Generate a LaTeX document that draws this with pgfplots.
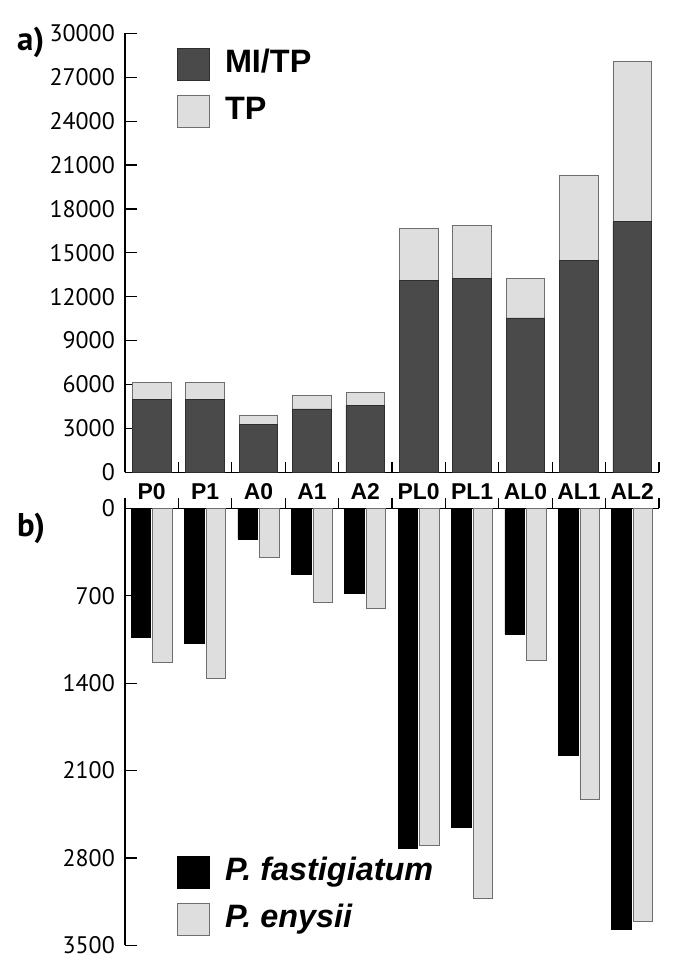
\documentclass[border=0pt]{standalone}
\usepackage{pgfplots}
\pgfplotsset{compat=1.18}
\usepackage{pgfplotstable}
\usepackage{fontspec}
\setmainfont{PT Sans}
\newfontfamily\barfont{Liberation Sans}

\definecolor{dgray}{HTML}{4A4A4A}
\definecolor{dedge}{HTML}{2E2E2E}
\definecolor{lgray}{HTML}{DEDEDE}
\definecolor{ledge}{HTML}{6E6E6E}

% panel a: stacked, MI/TP at the bottom, TP on top
\pgfplotstableread{
x  cat  mitp   tp
0  P0   4990   1135
1  P1   5000   1150
2  A0   3300   595
3  A1   4330   905
4  A2   4550   920
5  PL0  13090  3560
6  PL1  13230  3670
7  AL0  10550  2680
8  AL1  14460  5840
9  AL2  17130  10960
}\topdata

% panel b
\pgfplotstableread{
x  cat  fast  enys
0  P0   1036  1236
1  P1   1084  1362
2  A0   246   390
3  A1   529   750
4  A2   681   798
5  PL0  2723  2702
6  PL1  2555  3127
7  AL0  1009  1217
8  AL1  1976  2334
9  AL2  3369  3311
}\botdata

\pgfplotsset{
  sq legend/.style={legend image code/.code={\draw[##1] (0bp,-16bp) rectangle (32bp,16bp);}},
  panel/.style={
    scale only axis, width=534bp,
    xmin=-0.5, xmax=9.5,
    axis line style={line width=1.2bp},
    tick align=inside,
    major tick length=12bp, minor tick length=10.5bp,
    every tick/.style={black, line width=1.2bp},
    major x tick style={draw=none},
    minor xtick={-0.5,0.5,...,9.5},
    scaled y ticks=false,
    /pgf/number format/assume math mode=true,
    /pgf/number format/1000 sep={},
    yticklabel style={font=\fontsize{24}{28}\selectfont, inner sep=0pt, xshift=-10bp},
    legend cell align=left,
    legend style={draw=none, fill=none, inner sep=0pt, row sep=14bp, column sep=15bp,
      nodes={inner sep=0pt, text height=24bp, text depth=8bp},
      font=\barfont\bfseries\fontsize{32.5}{36}\selectfont},
  },
}

\begin{document}
\begin{tikzpicture}
\useasboundingbox (0bp,0bp) rectangle (685bp,-973bp);

\begin{axis}[panel,
  at={(125bp,-472.3bp)}, anchor=south west, height=439bp,
  axis x line*=bottom, axis y line*=left,
  ymin=0, ymax=30000, ytick={0,3000,...,30000},
  ybar stacked, bar width=38.7bp,
  xtick=data, xticklabels from table={\topdata}{cat},
  xticklabel style={font=\barfont\bfseries\fontsize{23}{26}\selectfont, anchor=base, inner sep=0pt, yshift=-27bp},
  legend style={at={(axis description cs:0.0974,0.9665)}, anchor=north west},
]
\addplot[fill=dgray, draw=dedge, line width=0.8bp, sq legend] table[x=x, y=mitp] {\topdata};
\addplot[fill=lgray, draw=ledge, line width=0.8bp, sq legend] table[x=x, y=tp] {\topdata};
\legend{MI/TP, TP}
\end{axis}

\begin{axis}[panel,
  at={(125bp,-508.3bp)}, anchor=north west, height=437bp,
  y dir=reverse,
  axis x line*=top, axis y line*=left,
  ymin=0, ymax=3500, ytick={0,700,...,3500},
  ybar=2.1bp, bar width=19.5bp,
  xtick=data, xticklabels={},
  legend style={at={(axis description cs:0.0974,0.2043)}, anchor=north west},
]
\addplot[fill=black, draw=black, line width=0.6bp, sq legend] table[x=x, y=fast] {\botdata};
\addplot[fill=lgray, draw=ledge, line width=0.8bp, sq legend] table[x=x, y=enys] {\botdata};
\legend{\itshape P. fastigiatum, \itshape P. enysii}
\end{axis}

\node[anchor=base west, inner sep=0pt, font=\bfseries\fontsize{33}{36}\selectfont] at (17bp,-50bp) {a)};
\node[anchor=base west, inner sep=0pt, font=\bfseries\fontsize{33}{36}\selectfont] at (17bp,-536bp) {b)};
\end{tikzpicture}
\end{document}
